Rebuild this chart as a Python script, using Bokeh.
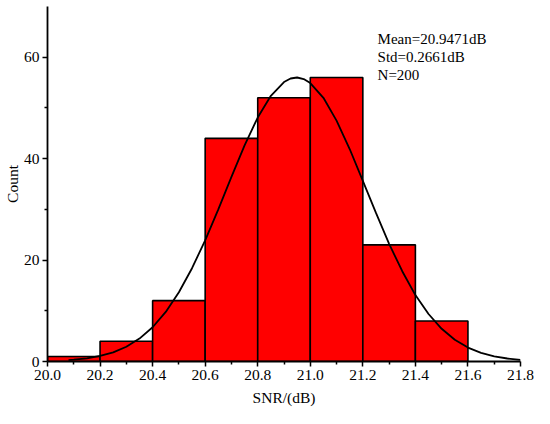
from bokeh.plotting import figure
from bokeh.models import FixedTicker, Label, NumeralTickFormatter
from bokeh.embed import file_html
from bokeh.resources import INLINE

# Histogram bins (dB) and counts
bin_left = [20.0, 20.2, 20.4, 20.6, 20.8, 21.0, 21.2, 21.4]
bin_right = [20.2, 20.4, 20.6, 20.8, 21.0, 21.2, 21.4, 21.6]
counts = [1, 4, 12, 44, 52, 56, 23, 8]

# Fitted normal curve
curve_x = [20.08, 20.10, 20.15, 20.20, 20.25, 20.30, 20.35, 20.40, 20.45, 20.50,
           20.55, 20.60, 20.65, 20.70, 20.75, 20.80, 20.85, 20.90, 20.925, 20.95,
           20.975, 21.00, 21.05, 21.10, 21.15, 21.20, 21.25, 21.30, 21.35, 21.40,
           21.45, 21.50, 21.55, 21.60, 21.65, 21.70, 21.75, 21.80]
curve_y = [0.28, 0.35, 0.63, 1.09, 1.81, 2.91, 4.52, 6.76, 9.78, 13.65,
           18.39, 23.9, 30.0, 36.4, 42.6, 48.1, 52.4, 55.1, 55.8, 56.0,
           55.7, 54.9, 52.0, 47.5, 41.9, 35.6, 29.3, 23.2, 17.8, 13.1,
           9.37, 6.45, 4.29, 2.75, 1.70, 1.02, 0.59, 0.33]

x_major = [20.0, 20.2, 20.4, 20.6, 20.8, 21.0, 21.2, 21.4, 21.6, 21.8]
x_minor = [20.1, 20.3, 20.5, 20.7, 20.9, 21.1, 21.3, 21.5, 21.7]
y_major = [0, 20, 40, 60]
y_minor = [10, 30, 50]

stats_text = ["Mean=20.9471dB", "Std=0.2661dB", "N=200"]

FONT = "Liberation Serif"

p = figure(width=534, height=408, output_backend="svg", toolbar_location=None,
           x_range=(20.0, 21.8), y_range=(0, 70),
           min_border_left=46, min_border_right=14, min_border_top=6, min_border_bottom=44,
           x_axis_label="SNR/(dB)", y_axis_label="Count")
p.outline_line_color = None
p.grid.visible = False
p.background_fill_color = "white"
p.border_fill_color = "white"

p.quad(left=bin_left, right=bin_right, top=counts, bottom=0,
       fill_color="#FF0000", line_color="black", line_width=1.6)
p.line(curve_x, curve_y, line_color="black", line_width=1.8)

for ax in (p.xaxis[0], p.yaxis[0]):
    ax.axis_line_width = 1.8
    ax.major_tick_line_width = 1.5
    ax.minor_tick_line_width = 1.5
    ax.major_tick_in = 0
    ax.major_tick_out = 5
    ax.minor_tick_in = 0
    ax.minor_tick_out = 3
    ax.major_label_text_font = FONT
    ax.major_label_text_font_size = "15.5px"
    ax.major_label_text_color = "black"
    ax.axis_label_text_font = FONT
    ax.axis_label_text_font_size = "15.5px"
    ax.axis_label_text_font_style = "normal"
    ax.axis_label_text_color = "black"

p.xaxis[0].ticker = FixedTicker(ticks=x_major, minor_ticks=x_minor)
p.xaxis[0].formatter = NumeralTickFormatter(format="0.0")
p.xaxis[0].major_label_standoff = 3
p.xaxis[0].axis_label_standoff = 6

p.yaxis[0].ticker = FixedTicker(ticks=y_major, minor_ticks=y_minor)
p.yaxis[0].major_label_standoff = 3
p.yaxis[0].axis_label_standoff = 0

for i, t in enumerate(stats_text):
    p.add_layout(Label(x=21.256, y=63.6 - 3.6 * i, text=t, text_font=FONT,
                       text_font_size="15px", text_baseline="middle",
                       text_color="black"))

open("out.html", "w").write(file_html(p, INLINE))
